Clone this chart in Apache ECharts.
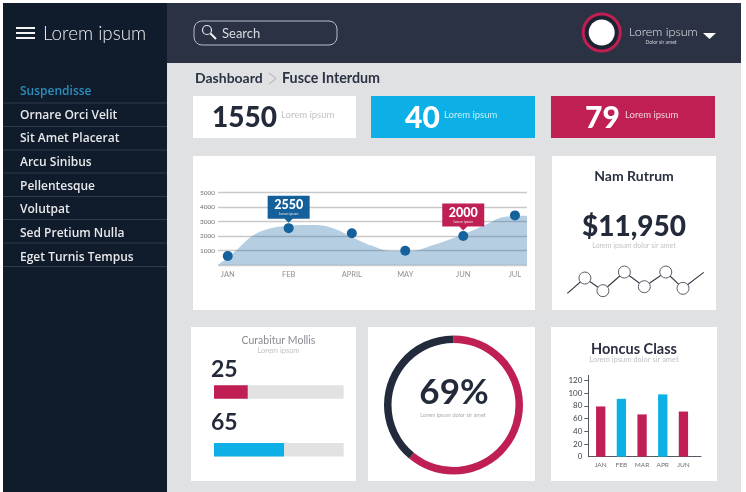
<!DOCTYPE html>
<html>
<head>
<meta charset="utf-8">
<title>Dashboard</title>
<script src="https://cdn.jsdelivr.net/npm/echarts@6/dist/echarts.min.js"></script>
<style>
  html, body { margin: 0; padding: 0; background: #fff; }
  #div_chart { width: 746px; height: 492px; }
</style>
</head>
<body>
<div id="div_chart"></div>
<script>
"use strict";

// sidebar and header texts
const menu_items = ["Suspendisse", "Ornare Orci Velit", "Sit Amet Placerat", "Arcu Sinibus", "Pellentesque", "Volutpat", "Sed Pretium Nulla", "Eget Turnis Tempus"];
const kpi_values = ["1550", "40", "79"];

// area chart, x is measured in months from JAN
const area_tick_names = ["JAN", "FEB", "APRIL", "MAY", "JUN", "JUL"];
const area_tick_pos = [0, 1.06, 2.16, 3.09, 4.1, 5];
const point_values = [620, 2550, 2190, 990, 2000, 3430];
const curve_x = [-0.17, 0.12, 0.41, 0.7, 1.05, 1.46, 1.81, 2.15, 2.5, 2.85, 3.2, 3.55, 4.07, 4.48, 4.83, 5.21];
const curve_y = [0, 920, 1960, 2490, 2720, 2765, 2580, 1960, 1340, 970, 970, 1340, 2070, 2765, 3340, 3410];

// sparkline
const spark_x = [0, 0.91, 1.84, 2.95, 3.98, 5.09, 5.98, 7.05];
const spark_y = [0.5, 5.1, 1.3, 6.9, 2.5, 6.9, 2.0, 6.8];

// progress bars: drawn length and printed number differ in the picture
const progress_lengths = [26, 54];
const progress_labels = ["25", "65"];

// donut
const donut_values = [61, 39];

// column chart
const column_names = ["JAN", "FEB", "MAR", "APR", "JUN"];
const column_values = [79, 91, 66.5, 98, 71];

const CRIMSON = "#c01f53";
const SKY = "#0db0e6";
const NAVY = "#14609a";
const INK = "#232a3a";
const HEAVY = "Lato";
const BODY = "Lato";
const MENU = "'Open Sans'";

function rect(x, y, w, h, color, r) {
  return { type: "rect", shape: { x: x, y: y, width: w, height: h, r: r || 0 }, style: { fill: color }, silent: true };
}

function txt(x, y, str, size, color, weight, align, family, extra) {
  return {
    type: "text",
    silent: true,
    style: Object.assign({
      x: x, y: y, text: str,
      font: (weight || 400) + " " + size + "px " + (family || BODY),
      fill: color, align: align || "left", verticalAlign: "middle",
    }, extra || {}),
  };
}

function build_graphic() {
  const els = [];
  // page blocks
  els.push(rect(3, 3, 738, 489, "#e0e1e3"));
  els.push(rect(167, 3, 574, 60, "#2a3244"));
  els.push(rect(3, 3, 164, 489, "#101b2b"));

  // brand
  for (const y of [28, 33, 38]) { els.push(rect(16, y - 1, 19, 2, "#f2f2f2")); }
  els.push(txt(43, 34, "Lorem ipsum", 18.8, "#eceef0", 300));

  // menu
  const menu_y = [91.5, 115.5, 139, 162.5, 186.5, 210, 233.5, 257.5];
  const line_y = [102.5, 126, 149.5, 172.5, 196, 219, 242.5, 266];
  menu_items.forEach(function (name, i) {
    els.push(txt(20, menu_y[i], name, 12, i === 0 ? "#2b8fbd" : "#e8e9eb", 600, "left", MENU));
    els.push(rect(3, line_y[i], 164, 1, "#2f3a4a"));
  });

  // search box
  els.push({ type: "rect", silent: true, shape: { x: 194, y: 21, width: 143, height: 24, r: 8 }, style: { fill: "none", stroke: "#b9bec7", lineWidth: 1 } });
  els.push({ type: "circle", silent: true, shape: { cx: 207, cy: 30, r: 4.5 }, style: { fill: "none", stroke: "#e6e8ea", lineWidth: 1.2 } });
  els.push({ type: "line", silent: true, shape: { x1: 210.5, y1: 33.5, x2: 216, y2: 39 }, style: { stroke: "#f2f2f2", lineWidth: 2 } });
  els.push(txt(222, 33.5, "Search", 13, "#d9dce0", 400));

  // user block
  els.push({ type: "circle", silent: true, shape: { cx: 601.7, cy: 32.5, r: 18.5 }, style: { fill: "#1c2231", stroke: CRIMSON, lineWidth: 3 } });
  els.push({ type: "circle", silent: true, shape: { cx: 601.7, cy: 32.5, r: 13 }, style: { fill: "#fff" } });
  els.push(txt(629, 32, "Lorem ipsum", 12.5, "#e4e6e9", 300));
  els.push(txt(661, 42.5, "Dolor sir amet", 5, "#cfd2d7", 400, "center", BODY, { fontStyle: "italic" }));
  els.push({ type: "polygon", silent: true, shape: { points: [[703, 33], [716, 33], [709.5, 39]] }, style: { fill: "#fff" } });

  // breadcrumb
  els.push(txt(195, 78.5, "Dashboard", 14, "#2a3244", 700));
  els.push({ type: "polyline", silent: true, shape: { points: [[269, 73], [276, 78.5], [269, 84]] }, style: { fill: "none", stroke: "#a9acb2", lineWidth: 1 } });
  els.push(txt(282, 78.5, "Fusce Interdum", 14.3, "#2a3244", 700));

  // KPI tiles
  els.push(rect(193, 96, 163, 42, "#fff"));
  els.push(rect(371, 96, 164, 42, SKY));
  els.push(rect(551, 96, 164, 42, CRIMSON));
  els.push(txt(212, 117.5, kpi_values[0], 28, INK, 900, "left", HEAVY));
  els.push(txt(281, 115, "Lorem ipsum", 9.5, "#c0c2c6", 400));
  els.push(txt(405, 118, kpi_values[1], 30, "#fff", 900, "left", HEAVY));
  els.push(txt(444, 115, "Lorem ipsum", 9.5, "#c9ecf8", 400));
  els.push(txt(585, 118, kpi_values[2], 30, "#fff", 900, "left", HEAVY));
  els.push(txt(625, 115, "Lorem ipsum", 9.5, "#f2cfdb", 400));

  // cards
  els.push(rect(193, 156, 342, 154, "#fff"));
  els.push(rect(552, 156, 164, 154, "#fff"));
  els.push(rect(191, 327, 165, 154, "#fff"));
  els.push(rect(368, 327, 167, 154, "#fff"));
  els.push(rect(551, 327, 166, 154, "#fff"));

  // card texts
  els.push(txt(634, 176, "Nam Rutrum", 14, "#2a3040", 700, "center"));
  els.push(txt(634, 227, "$11,950", 28, INK, 900, "center", HEAVY));
  els.push(txt(634, 246, "Lorem ipsum dolor sir amet", 7, "#c0c2c6", 400, "center"));
  els.push(txt(278.5, 341, "Curabitur Mollis", 10.5, "#8a8c92", 400, "center"));
  els.push(txt(278.5, 351, "Lorem ipsum", 7.5, "#c0c2c6", 400, "center"));
  els.push(txt(454, 393, "69%", 35, INK, 700, "center"));
  els.push(txt(453, 415, "Lorem ipsum dolor sir amet", 5.5, "#a9abb0", 400, "center"));
  els.push(txt(634, 349, "Honcus Class", 14.5, "#2a3040", 700, "center"));
  els.push(txt(634, 359.5, "Lorem ipsum dolor sir amet", 7.5, "#c0c2c6", 400, "center"));
  return els;
}

function callout(i, color) {
  return {
    coord: [area_tick_pos[i], point_values[i]],
    value: point_values[i],
    symbol: "path://M0 0H42V23H25L21 27L17 23H0Z",
    symbolSize: [42, 27],
    symbolOffset: [0, -19],
    itemStyle: { color: color },
    label: {
      show: true,
      position: "inside",
      offset: [0, -2],
      formatter: function (p) { return "{n|" + p.value + "}\n{s|Lorem ipsum}"; },
      rich: {
        n: { fontFamily: HEAVY, fontWeight: 900, fontSize: 12.5, color: "#fff", align: "center", lineHeight: 13 },
        s: { fontFamily: BODY, fontSize: 3.5, color: "#e6e6e6", align: "center", lineHeight: 5 },
      },
    },
  };
}

const chart = echarts.init(document.getElementById("div_chart"));
chart.setOption({
  animation: false,
  backgroundColor: "#fff",
  graphic: { elements: build_graphic() },
  grid: [
    { left: 218, top: 192.7, width: 309, height: 72.3 },
    { left: 567.3, top: 271.7, width: 136.4, height: 23.3 },
    { left: 214, top: 363.2, width: 129.7, height: 115.4 },
    { left: 588.3, top: 375.3, width: 112.7, height: 81.4 },
  ],
  xAxis: [
    {
      gridIndex: 0, type: "value", min: -0.17, max: 5.21,
      splitLine: { show: false }, axisTick: { show: false },
      axisLine: { show: false },
      axisLabel: {
        customValues: area_tick_pos, color: "#8d8f94", fontSize: 7.5, fontFamily: BODY, margin: 6,
        formatter: function (v) { return area_tick_names[area_tick_pos.indexOf(v)]; },
      },
    },
    { gridIndex: 1, type: "value", min: 0, max: 7.05, show: false },
    { gridIndex: 2, type: "value", min: 0, max: 100, show: false },
    {
      gridIndex: 3, type: "value", min: -0.6, max: 4.85,
      splitLine: { show: false }, axisTick: { show: false },
      axisLine: { show: true, onZero: false, lineStyle: { color: "#555a64", width: 1 } },
      axisLabel: {
        customValues: [0, 1, 2, 3, 4], color: "#6d7076", fontSize: 6.5, fontFamily: BODY, margin: 5,
        formatter: function (v) { return column_names[v]; },
      },
    },
  ],
  yAxis: [
    {
      gridIndex: 0, type: "value", min: 0, max: 5000, interval: 1000,
      axisLine: { show: false }, axisTick: { show: false },
      splitLine: { show: true, lineStyle: { color: "#c9c9c9", width: 1.4 } },
      axisLabel: {
        color: "#6d7076", fontSize: 6.5, fontFamily: BODY, margin: 3,
        formatter: function (v) { return v === 0 ? "" : String(v); },
      },
    },
    { gridIndex: 1, type: "value", min: 0, max: 7, show: false },
    {
      gridIndex: 2, type: "category", inverse: true, data: progress_labels,
      axisLine: { show: false }, axisTick: { show: false }, axisLabel: { show: false },
    },
    {
      gridIndex: 3, type: "value", min: 0, max: 128,
      splitLine: { show: false },
      axisLine: { show: true, onZero: false, lineStyle: { color: "#555a64", width: 1 } },
      axisTick: { show: true, customValues: [20, 40, 60, 80, 100, 120], length: 4, lineStyle: { color: "#555a64" } },
      axisLabel: { customValues: [0, 20, 40, 60, 80, 100, 120], color: "#3a3e48", fontSize: 8, fontFamily: BODY, margin: 6 },
    },
  ],
  series: [
    {
      type: "line", xAxisIndex: 0, yAxisIndex: 0, smooth: 0.4, symbol: "none",
      data: curve_x.map(function (x, i) { return [x, curve_y[i]]; }),
      lineStyle: { width: 0 },
      areaStyle: { color: "#1f6aa5", opacity: 0.33, origin: "start" },
    },
    {
      type: "scatter", xAxisIndex: 0, yAxisIndex: 0, symbolSize: 10,
      data: area_tick_pos.map(function (x, i) { return [x, point_values[i]]; }),
      itemStyle: { color: NAVY, opacity: 1 },
      markPoint: { silent: true, data: [callout(1, NAVY), callout(4, CRIMSON)] },
    },
    {
      type: "line", xAxisIndex: 1, yAxisIndex: 1, clip: false,
      data: spark_x.map(function (x, i) {
        const item = { value: [x, spark_y[i]] };
        if (i === 0 || i === spark_x.length - 1) { item.symbol = "none"; }
        return item;
      }),
      symbol: "circle", symbolSize: 12,
      lineStyle: { color: "#3a3e48", width: 1.2 },
      itemStyle: { color: "#fff", borderColor: "#5c5f66", borderWidth: 1 },
    },
    {
      type: "bar", xAxisIndex: 2, yAxisIndex: 2, barWidth: 13.4,
      data: [
        { value: progress_lengths[0], itemStyle: { color: CRIMSON }, label: { position: [-3, -27] } },
        { value: progress_lengths[1], itemStyle: { color: SKY }, label: { position: [-3, -32] } },
      ],
      showBackground: true,
      backgroundStyle: { color: "#e2e2e2" },
      label: {
        show: true,
        formatter: function (p) { return progress_labels[p.dataIndex]; },
        fontFamily: HEAVY, fontWeight: 700, fontSize: 23, color: INK,
      },
    },
    {
      type: "pie", center: [453.5, 405], radius: [62, 69.5], startAngle: 90, clockwise: true,
      silent: true, label: { show: false }, labelLine: { show: false },
      data: [
        { value: donut_values[0], itemStyle: { color: CRIMSON } },
        { value: donut_values[1], itemStyle: { color: "#232a3c" } },
      ],
    },
    {
      type: "bar", xAxisIndex: 3, yAxisIndex: 3, barWidth: 9.3,
      data: column_values.map(function (v, i) {
        return { value: [i, v], itemStyle: { color: i % 2 === 0 ? CRIMSON : SKY } };
      }),
    },
  ],
});
</script>
</body>
</html>
